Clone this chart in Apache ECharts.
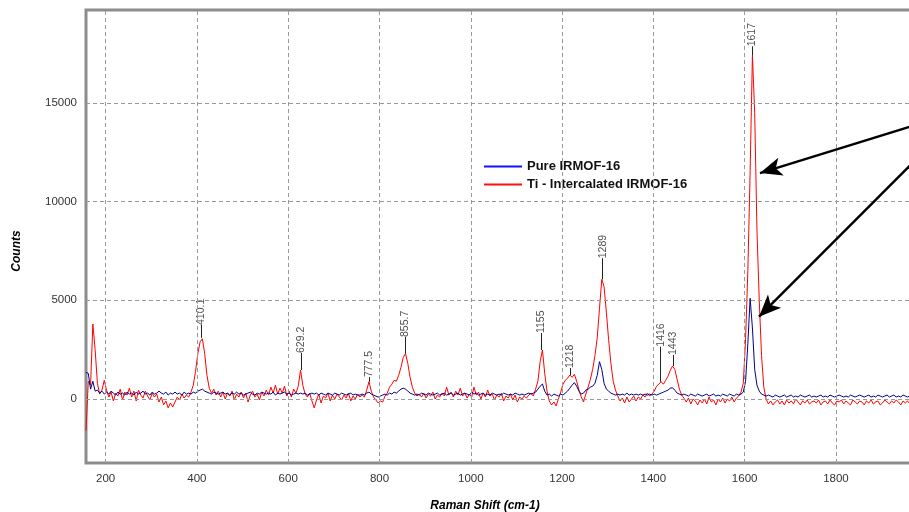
<!DOCTYPE html>
<html><head><meta charset="utf-8">
<script src="https://cdn.jsdelivr.net/npm/echarts@6/dist/echarts.min.js"></script>
<style>html,body{margin:0;padding:0;background:#fff}#c{width:909px;height:512px}</style>
</head><body><div id="c"></div>
<script>
// Raman shift grid (cm-1): value i is at shiftStart + i*shiftStep
const shiftStart = 157;
const shiftStep = 5;

// Pure IRMOF-16 (blue), counts
const pureIRMOF16 = [
1350,1300,500,900,400,450,300,400,250,350,250,400,300,200,350,250,300,200,350,250,
300,200,350,250,300,400,250,300,200,350,250,300,400,300,250,350,200,300,250,350,
250,300,200,350,250,300,250,350,300,400,450,500,400,350,300,250,350,300,250,300,
350,250,300,200,300,250,350,250,300,200,250,300,350,250,200,300,250,350,300,250,
300,250,350,200,300,250,300,350,250,300,200,250,300,250,300,250,300,200,250,300,
250,300,200,300,250,200,300,250,200,300,250,200,300,250,200,250,300,200,250,200,
200,250,200,300,350,250,200,150,100,150,200,250,200,300,250,350,300,400,500,550,
500,400,300,250,200,250,200,300,250,200,300,250,200,250,300,200,250,300,200,250,
300,200,250,300,200,250,300,250,200,350,250,300,200,250,300,200,250,200,300,250,
200,250,200,300,250,200,250,200,300,250,200,250,200,250,300,250,300,350,500,650,
760,400,200,250,150,250,200,150,250,200,300,400,550,700,830,650,400,250,300,450,
500,600,650,800,1200,1890,1500,800,500,400,300,250,200,250,200,250,200,300,200,250,
200,250,200,250,200,250,200,250,200,250,200,250,300,350,400,450,550,570,450,300,
250,200,250,200,150,250,200,150,250,200,150,200,250,150,200,250,150,200,150,250,
200,150,250,200,150,250,200,250,350,900,2800,5100,3600,1500,700,400,250,200,150,200,
150,100,200,150,100,150,200,100,150,200,100,150,100,200,150,100,150,200,100,150,
100,150,200,100,150,100,200,150,100,150,200,150,100,150,100,200,150,100,150,200,
150,100,150,200,100,150,100,200,150,100,150,200,100,150,200,100,150,100,200,150,
100,150,100
];

// Ti - Intercalated IRMOF-16 (red), counts
const tiIRMOF16 = [
-1600,900,700,3800,2500,800,250,450,950,450,100,350,-100,300,150,500,-50,350,200,550,
100,400,-100,450,200,50,400,150,-50,300,100,250,-150,100,-300,-100,-450,-200,-400,-150,
100,-50,250,50,200,100,350,700,1400,2300,2900,3050,2300,1200,550,300,500,200,400,100,
350,0,300,150,400,-50,250,100,350,50,300,-150,200,400,100,250,-50,350,150,450,
200,600,300,700,250,550,300,650,150,400,100,500,300,650,1470,700,250,100,300,-100,
-450,-50,250,-200,150,50,300,-100,200,0,250,100,-50,200,50,300,-100,150,0,250,
100,200,100,450,880,400,100,-50,-200,-100,-150,150,300,600,750,950,900,1200,1600,2100,
2310,1800,1100,600,300,150,250,100,300,50,250,150,350,0,200,100,300,150,600,200,
350,100,400,200,550,150,300,50,250,100,600,200,350,0,300,100,450,150,250,-50,
200,100,300,-100,150,50,250,-50,200,-150,100,0,150,50,200,300,150,500,900,1900,
2480,1300,400,-100,-300,-150,-350,0,350,750,950,1050,1215,1100,1250,900,450,100,-150,250,
600,1000,1500,2200,3100,4600,6060,5700,4400,3000,1800,900,450,150,-100,50,-200,100,-150,0,
150,-100,100,0,200,100,300,150,250,400,650,750,880,750,950,1150,1450,1670,1500,1000,
500,200,50,-150,50,-250,0,-100,-300,-50,-200,0,-250,100,-150,-50,-300,0,-150,50,
-200,0,-100,100,-150,50,150,350,800,3000,6500,11500,17400,14500,8500,5000,2200,600,0,-250,
-100,-300,-150,-50,-250,-100,-300,-50,-200,-100,-250,0,-150,-300,-100,-200,-50,-250,-150,-100,
-200,-50,-300,-150,-100,-250,-50,-200,-300,-100,-150,-50,-250,-100,-200,-300,-50,-150,-250,-100,
-150,-300,-100,-200,-50,-250,-150,-100,-300,-200,-50,-150,-250,-100,-200,-50,-150,-300,-100,-200,
-100,-250,-150
];

// Tick labels
const xTicks = [200, 400, 600, 800, 1000, 1200, 1400, 1600, 1800];
const yTicks = [0, 5000, 10000, 15000];

// Peak annotations
const peakShifts = [410.1, 629.2, 777.5, 855.7, 1155, 1218, 1289, 1416, 1443, 1617];
const peakLabels = ['410.1', '629.2', '777.5', '855.7', '1155', '1218', '1289', '1416', '1443', '1617'];
const peakTops = [3100, 1470, 880, 2310, 2480, 1215, 6060, 880, 1670, 17400];
const peakLabelBases = [3750, 2330, 1110, 3140, 3340, 1570, 7130, 2650, 2230, 17860];

// Arrow annotations (data units): from -> to
const arrowFrom = [[1970, 13845], [1970, 12010]];
const arrowTo = [[1633.6, 11440], [1631.5, 4170]];

const FONT = '"Liberation Sans", Arial, sans-serif';
const chart = echarts.init(document.getElementById('c'), null, {renderer: 'canvas'});

const toPairs = arr => arr.map((v, i) => [shiftStart + i * shiftStep, v]);

chart.setOption({
  animation: false,
  backgroundColor: '#ffffff',
  grid: {left: 86, top: 10, width: 828, bottom: 49, show: true, outerBoundsMode: 'none', containLabel: false,
         borderColor: '#8c8c8c', borderWidth: 3, backgroundColor: '#ffffff'},
  xAxis: {
    type: 'value', min: 157, max: 1971,
    axisLine: {show: false}, axisTick: {show: false}, splitLine: {show: false},
    axisLabel: {customValues: xTicks, formatter: v => String(v), color: '#333', fontSize: 11.5, fontFamily: FONT, margin: 10}
  },
  yAxis: {
    type: 'value', min: -3240, max: 19700,
    axisLine: {show: false}, axisTick: {show: false}, splitLine: {show: false},
    axisLabel: {customValues: yTicks, formatter: v => String(v), color: '#333', fontSize: 11.5, fontFamily: FONT, margin: 9}
  },
  legend: {
    orient: 'vertical', left: 479, top: 155, itemWidth: 38, itemHeight: 2, itemGap: 5,
    icon: 'rect',
    textStyle: {fontSize: 13, fontWeight: 'bold', color: '#111', fontFamily: FONT},
    data: [
      {name: 'Pure IRMOF-16', itemStyle: {color: '#1010ff'}},
      {name: 'Ti - Intercalated IRMOF-16', itemStyle: {color: '#ff1010'}}
    ]
  },
  graphic: [
    {type: 'text', x: 17, y: 251, rotation: Math.PI / 2,
     style: {text: 'Counts', font: 'italic bold 12px ' + FONT, fill: '#000', align: 'center', verticalAlign: 'middle'}},
    {type: 'text', x: 485, y: 506,
     style: {text: 'Raman Shift (cm-1)', font: 'italic bold 12px ' + FONT, fill: '#000', align: 'center', verticalAlign: 'middle'}}
  ],
  series: [
    {
      type: 'line', name: 'grid', data: [], silent: true, z: 1,
      markLine: {
        symbol: 'none', silent: true, label: {show: false},
        lineStyle: {type: [4, 3], color: '#9a9a9a', width: 1},
        data: xTicks.map(v => ({xAxis: v})).concat(yTicks.map(v => ({yAxis: v})))
      }
    },
    {
      type: 'line', name: 'Ti - Intercalated IRMOF-16', data: toPairs(tiIRMOF16),
      showSymbol: false, symbol: 'none', z: 2,
      lineStyle: {color: '#ff0000', width: 1}, itemStyle: {color: '#ff0000'}
    },
    {
      type: 'line', name: 'Pure IRMOF-16', data: toPairs(pureIRMOF16),
      showSymbol: false, symbol: 'none', z: 3,
      lineStyle: {color: '#000088', width: 1}, itemStyle: {color: '#000088'}
    },
    {
      type: 'scatter', name: 'peaks', silent: true, z: 4,
      data: peakShifts.map((s, i) => ({value: [s, peakLabelBases[i]], name: peakLabels[i]})),
      symbolSize: 1, itemStyle: {color: 'rgba(0,0,0,0)'},
      label: {show: true, formatter: p => p.name, rotate: 90, position: 'inside', align: 'left', verticalAlign: 'middle',
              fontSize: 10.5, color: '#222', fontFamily: FONT},
      markLine: {
        symbol: 'none', silent: true, label: {show: false},
        lineStyle: {color: '#222', width: 1, type: 'solid'},
        data: peakShifts.map((s, i) => [{coord: [s, peakTops[i]]}, {coord: [s, peakLabelBases[i]]}])
      }
    },
    {
      type: 'line', name: 'arrows', data: [], silent: true, z: 5, clip: false,
      markLine: {
        symbol: ['none', 'arrow'], symbolSize: [14, 22], silent: true, label: {show: false},
        lineStyle: {color: '#000', width: 2.5, type: 'solid'}, itemStyle: {color: '#000'},
        data: arrowFrom.map((f, i) => [{coord: f}, {coord: arrowTo[i]}])
      }
    }
  ]
});
</script></body></html>
